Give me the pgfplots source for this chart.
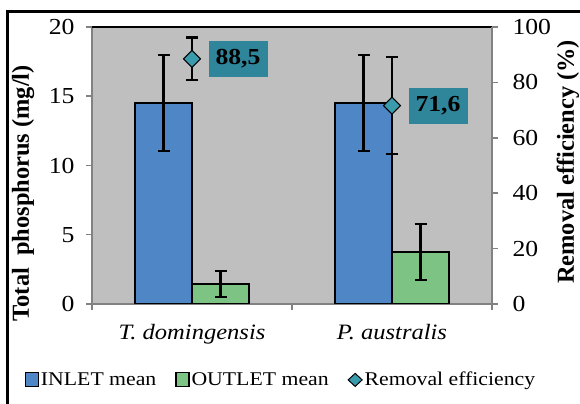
\documentclass[border=0pt]{standalone}
\usepackage{pgfplots}
\pgfplotsset{compat=1.18}
\usepackage{pgfplotstable}
\usepackage{fontspec}
\setmainfont{Liberation Serif}[FakeStretch=1.12]
\newfontfamily\rotfont{Liberation Serif}
\definecolor{inlet}{RGB}{79,134,198}
\definecolor{outlet}{RGB}{125,196,132}
\definecolor{remfill}{RGB}{58,155,172}
\definecolor{labbox}{RGB}{47,134,155}
\definecolor{plotbg}{RGB}{191,191,191}
\definecolor{axgray}{RGB}{130,130,130}

\pgfplotstableread{
x inlet inerr outlet outerr
0 14.5 3.45 1.45 0.96
1 14.5 3.45 3.75 2.02
}\phos
\pgfplotstableread{
x eff err lab
0 88.5 7.7 88,5
1 71.6 17.5 71,6
}\eff

\begin{document}
\begin{tikzpicture}
\useasboundingbox (0,0) rectangle (580bp,404bp);
\fill[white] (0,0) rectangle (580bp,404bp);
\draw[line width=3bp] (7bp,0) -- (7bp,392bp) -- (580bp,392bp);

\begin{axis}[
  at={(92bp,100bp)}, anchor=south west,
  scale only axis, width=400bp, height=277bp,
  xmin=-0.5, xmax=1.5, ymin=0, ymax=20,
  axis background/.style={fill=plotbg},
  axis x line*=bottom, axis y line*=left,
  axis line style={axgray, line width=1.5bp},
  tick align=outside, major tick length=6bp,
  tick style={axgray, line width=1.5bp},
  ytick={0,5,...,20},
  xtick={-0.5,0.5,1.5}, xticklabels={},
  extra x ticks={0,1},
  extra x tick labels={T. domingensis, P. australis},
  extra x tick style={major tick length=0pt,
     tick label style={font=\fontsize{22}{26}\selectfont\itshape, yshift=-17bp}},
  /pgf/number format/assume math mode=true,
  yticklabel style={font=\fontsize{23}{27}\selectfont, xshift=-8bp},
  ylabel={\rotfont\bfseries Total\ \ phosphorus (mg/l)},
  ylabel style={at={(rel axis cs:-0.172,0.40)}, anchor=center,
     font=\fontsize{24.5}{29}\selectfont},
  ybar, bar width=57bp,
  legend columns=3,
  legend style={draw=none, fill=none, at={(0.4725,-0.274)}, anchor=center,
     font=\fontsize{19.5}{23}\selectfont,
     /tikz/every even column/.append style={column sep=17bp},
     inner sep=0pt},
  legend cell align=left,
]
\addplot[ybar, bar shift=-28.5bp, fill=inlet, draw=black, line width=1.5bp,
  legend image code/.code={\draw[fill=inlet, draw=black, line width=1.2bp] (0bp,-6.5bp) rectangle (13bp,7bp);},
  error bars/.cd, y dir=both, y explicit,
  error bar style={line width=2.2bp, black},
  error mark options={rotate=90, mark size=6bp, line width=2.2bp, black}]
  table[x=x, y=inlet, y error=inerr]{\phos};
\addlegendentry{INLET mean}
\addplot[ybar, bar shift=28.5bp, fill=outlet, draw=black, line width=1.5bp,
  legend image code/.code={\draw[fill=outlet, draw=black, line width=1.2bp] (0bp,-6.5bp) rectangle (13bp,7bp);},
  error bars/.cd, y dir=both, y explicit,
  error bar style={line width=2.2bp, black},
  error mark options={rotate=90, mark size=6bp, line width=2.2bp, black}]
  table[x=x, y=outlet, y error=outerr]{\phos};
\addlegendentry{OUTLET mean}
\addlegendimage{legend image code/.code={\filldraw[fill=remfill, draw=black, line width=1bp] (0bp,0bp) -- (7bp,6.5bp) -- (14bp,0bp) -- (7bp,-6.5bp) -- cycle;}}
\addlegendentry{Removal efficiency}
\draw[black, line width=1.5bp] (rel axis cs:0,1) -- (rel axis cs:1,1);
\end{axis}

\begin{axis}[
  at={(92bp,100bp)}, anchor=south west,
  scale only axis, width=400bp, height=277bp,
  xmin=-0.5, xmax=1.5, ymin=0, ymax=100,
  axis x line=none, axis y line*=right,
  axis line style={axgray, line width=1.5bp},
  tick align=outside, major tick length=6bp,
  tick style={axgray, line width=1.5bp},
  ytick={0,20,...,100},
  /pgf/number format/assume math mode=true,
  yticklabel style={font=\fontsize{23}{27}\selectfont, xshift=11bp},
  ylabel={\rotfont\bfseries Removal efficiency (\%)},
  ylabel style={at={(rel axis cs:1.19,0.513)}, anchor=center,
     font=\fontsize{24.5}{29}\selectfont},
  clip=false,
]
\addplot[only marks, mark=square*, mark size=6bp,
  mark options={rotate=45, fill=remfill, draw=black, line width=1bp},
  point meta=explicit symbolic,
  nodes near coords,
  nodes near coords style={anchor=west, xshift=16bp, fill=labbox,
     minimum width=59bp, minimum height=36bp, inner sep=0pt, text=black,
     font=\fontsize{23}{27}\selectfont\bfseries},
  error bars/.cd, y dir=both, y explicit,
  error bar style={line width=2.2bp, black},
  error mark options={rotate=90, mark size=6bp, line width=2.2bp, black}]
  table[x=x, y=eff, y error=err, meta=lab]{\eff};
\end{axis}
\end{tikzpicture}
\end{document}
